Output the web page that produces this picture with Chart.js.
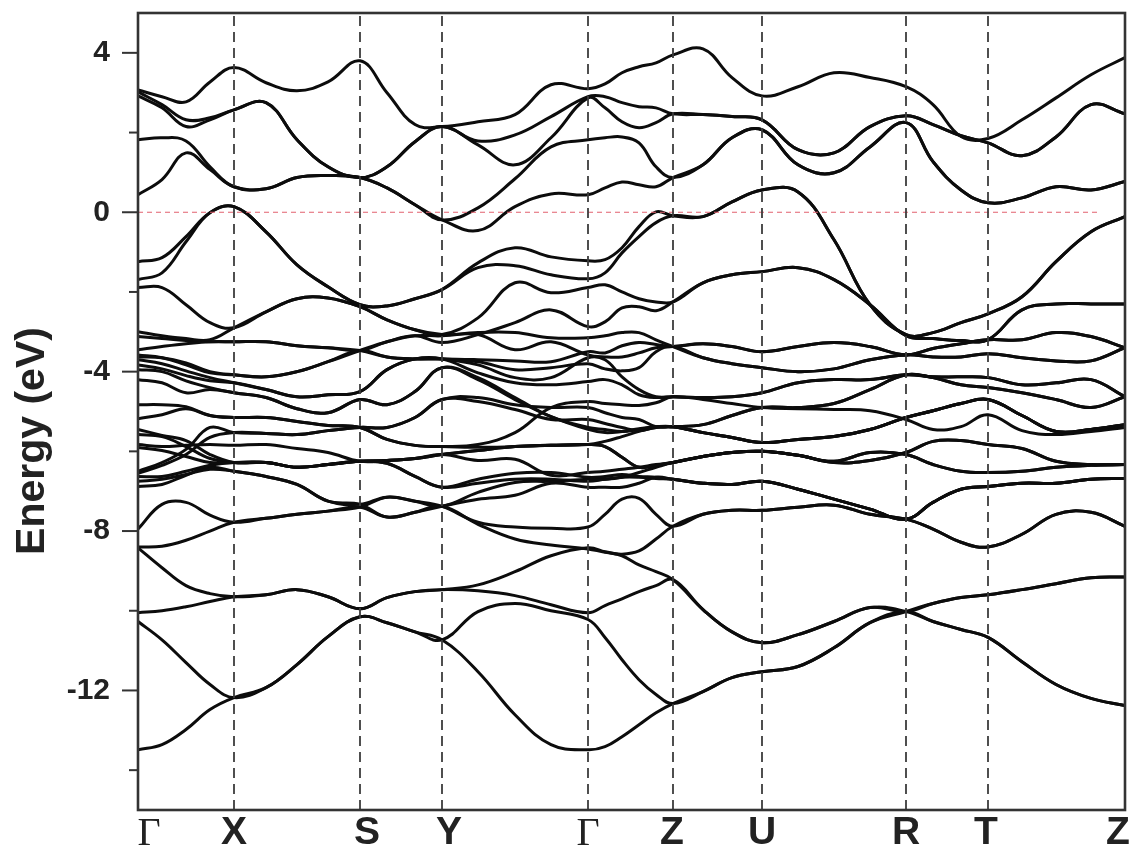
<!DOCTYPE html>
<html>
<head>
<meta charset="utf-8">
<title>Band structure</title>
<script src="https://cdn.jsdelivr.net/npm/chart.js@4"></script>
<style>
  html, body { margin: 0; padding: 0; background: #fff; }
  #wrap { width: 1137px; height: 852px; }
  canvas { filter: blur(0.5px); }
</style>
</head>
<body>
<div id="wrap"><canvas id="bands" width="1137" height="852"></canvas></div>
<script>
// k path, same length units for every band
const kGrid = [0,24,48,72, 96,128,159,190,222, 249,277,304, 340,377,413, 450,467,484,501,518,535, 565,594,624, 660,696,732,768, 795,823,850, 884,918,953,987];
const kPoints = [96,222,304,450,535,624,768,850];
const kLabelPos = [11,96,229,311,450,534,624,768,848,980];
const kLabels = ['Γ','X','S','Y','Γ','Z','U','R','T','Z'];
const yTicksMajor = [4,0,-4,-8,-12];
const yTicksMinor = [2,-2,-6,-10,-14];
const fermiEnd = 962;

// shared stretches, bands are degenerate there
const xsTop = [2.57,2.75,1.82,1.14,0.87];
const syTop = [1.14,1.77,2.15];
const tailTop = [2.45,2.40,2.32, 1.57,1.49,2.15,2.42, 2.20,1.92,1.74, 1.42,1.89,2.70,2.47];
const xsMid = [0.64,0.59,0.87,0.92,0.87];
const syMid = [0.61,0.19,-0.19];
const tailMid = [1.19,1.87,2.07, 1.19,0.99,1.64,2.25, 1.27,0.56,0.24, 0.36,0.64,0.56,0.77];
const xsVal = [0.14,-0.49,-1.32,-1.87,-2.32];
const syVal = [-2.35,-2.17,-1.94];
const tailVal = [-0.11,0.26,0.56, 0.51,-0.69,-2.32,-3.07, -3.02,-2.77,-2.55, -2.12,-1.24,-0.49,-0.11];
const xsLow = [-2.90,-2.50,-2.17,-2.15,-2.37];
const syLow = [-2.70,-2.95,-3.07];
const tailLow = [-1.77,-1.57,-1.49, -1.39,-1.69,-2.32,-3.10, -3.17,-3.22,-3.20, -2.45,-2.30,-2.30,-2.30];
const xsFlat = [-3.25,-3.25,-3.35,-3.40,-3.47];
const tailFlatA = [-3.30,-3.37,-3.50, -3.37,-3.27,-3.37,-3.58, -3.42,-3.30,-3.20, -3.20,-3.02,-3.12,-3.40];
const xsDip = [-4.08,-4.13,-4.00,-3.75,-3.47];
const tailFlatB = [-3.65,-3.80,-3.90, -4.00,-3.93,-3.70,-3.58, -3.63,-3.63,-3.55, -3.65,-3.73,-3.73,-3.40];
const syFall = [-3.63,-3.68,-3.68];
const xsG1 = [-4.28,-4.45,-4.63,-4.58,-4.50];
const syG1 = [-3.95,-3.68,-3.68];
const xsG2 = [-4.53,-4.65,-4.93,-5.03,-4.70];
const syG2 = [-4.83,-4.50,-3.90];
const zuUpper = [-4.65,-4.63,-4.53, -4.28,-4.20,-4.20,-4.08];
const rzUpper = [-4.13,-4.13,-4.15, -4.33,-4.28,-4.20,-4.63];
const rzLower = [-4.15,-4.33,-4.40, -4.53,-4.70,-4.90,-4.63];
const zuRising = [-5.33,-5.10,-4.90, -4.90,-4.80,-4.45,-4.08];
const tailFall = [-5.53,-5.65,-5.78, -5.70,-5.63,-5.45,-5.15, -4.98,-4.80,-4.70, -5.10,-5.50,-5.45,-5.33];
const xsM = [-5.15,-5.15,-5.25,-5.35,-5.40];
const syM = [-5.70,-5.85,-5.88];
const xsH = [-5.53,-5.55,-5.58,-5.48,-5.40];
const syH = [-5.40,-5.15,-4.70];
const xsN = [-6.28,-6.28,-6.40,-6.33,-6.25];
const syN = [-6.23,-6.18,-6.08];
const syN3 = [-6.30,-6.63,-6.90];
const tailN1 = [-6.13,-6.03,-6.00, -6.10,-6.25,-6.03,-6.08, -6.33,-6.50,-6.53, -6.50,-6.40,-6.35,-6.33];
const tailN2 = [-6.13,-6.03,-6.00, -6.10,-6.28,-6.23,-6.03, -5.75,-5.73,-5.83, -5.93,-6.25,-6.33,-6.33];
const tailN3 = [-6.80,-6.83,-6.75, -6.95,-7.20,-7.45,-7.70, -7.28,-6.95,-6.88, -6.80,-6.80,-6.70,-6.68];
const xsF = [-6.50,-6.63,-6.83,-7.25,-7.33];
const xsE = [-7.78,-7.68,-7.58,-7.50,-7.40];
const tailE = [-7.58,-7.48,-7.48, -7.40,-7.35,-7.58,-7.70, -7.95,-8.28,-8.40, -8.08,-7.58,-7.53,-7.88];
const xsDeep1 = [-9.65,-9.60,-9.47,-9.65,-9.95];
const syDeep1 = [-9.67,-9.52,-9.47];
const zrDeep1 = [-9.97,-10.53,-10.80, -10.60,-10.27,-9.92,-10.02];
const rzRise = [-9.82,-9.67,-9.60, -9.47,-9.32,-9.17,-9.15];
const rzDrop = [-10.27,-10.47,-10.67, -11.28,-11.85,-12.20,-12.38];
const xsDeep2 = [-12.18,-11.93,-11.35,-10.65,-10.15];
const syDeep2 = [-10.30,-10.53,-10.73];
const zrDeep2 = [-12.03,-11.68,-11.53, -11.40,-10.93,-10.30,-10.02];

const band1 = [3.07,2.90,2.77,3.27, 3.63,3.25,3.05,3.27,3.80, 3.00,2.20,2.15, 2.27,2.45,3.20, 3.10,3.22,3.50,3.65,3.75,3.95, 4.10,3.38,2.92, 3.15,3.50,3.38,3.15, 2.70,1.90,1.85, 2.32,2.87,3.45,3.88];
const band2 = [3.02,2.70,2.32,2.37, ...xsTop, ...syTop, 1.79,1.94,2.40, 2.90,2.90,2.75,2.65,2.62,2.47, ...tailTop];
const band3 = [2.92,2.62,2.15,2.32, ...xsTop, ...syTop, 1.69,1.19,1.87, 2.87,2.62,2.27,2.12,2.25,2.47, ...tailTop];
const band4 = [1.82,1.87,1.79,1.14, ...xsMid, ...syMid, 0.11,0.84,1.64, 1.82,1.87,1.89,1.74,1.14,0.87, ...tailMid];
const band5 = [0.44,0.82,1.49,1.07, ...xsMid, ...syMid, -0.46,0.14,0.46, 0.44,0.61,0.76,0.69,0.64,0.87, ...tailMid];
const band6 = [-1.24,-1.14,-0.61,-0.01, ...xsVal, ...syVal, -1.27,-0.89,-1.12, -1.22,-1.19,-0.89,-0.36,0.01,-0.09, ...tailVal];
const band7 = [-1.69,-1.52,-0.74,-0.01, ...xsVal, ...syVal, -1.39,-1.34,-1.57, -1.67,-1.52,-1.02,-0.61,-0.26,-0.09, ...tailVal];
const band8 = [-1.89,-1.89,-2.32,-2.77, ...xsLow, ...syLow, -2.65,-1.77,-2.02, -1.89,-1.82,-2.00,-2.17,-2.25,-2.25, ...tailLow];
const band9 = [-3.00,-3.10,-3.17,-3.20, ...xsLow, ...syLow, -3.07,-3.45,-3.25, -3.58,-3.63,-3.63,-3.53,-3.40,-3.37, ...tailFlatA];
const band10 = [-3.45,-3.37,-3.30,-3.25, ...xsFlat, -3.25,-3.10,-3.27, -3.07,-2.77,-2.45, -2.87,-2.75,-2.40,-2.37,-2.47,-2.25, ...tailLow];
const band11 = [-3.63,-3.65,-3.78,-4.00, ...xsDip, -3.25,-3.10,-3.10, -3.02,-3.02,-3.15, -3.15,-3.10,-3.02,-3.02,-3.20,-3.37, ...tailFlatB];
const band12 = [-3.12,-3.17,-3.22,-3.25, ...xsFlat, ...syFall, -3.70,-3.73,-3.75, -3.50,-3.53,-3.35,-3.27,-3.32,-3.37, ...tailFlatA];
const band13 = [-3.58,-3.65,-3.83,-4.03, ...xsDip, ...syFall, -3.75,-3.95,-3.90, -3.80,-3.93,-3.98,-3.90,-3.50,-3.37, ...tailFlatB];
const band14 = [-3.70,-3.80,-3.98,-4.15, ...xsG1, ...syG1, -3.83,-4.15,-4.15, -3.65,-3.70,-4.13,-4.45,-4.63,-4.63, ...zuUpper, ...rzUpper];
const band15 = [-3.83,-3.93,-4.10,-4.23, ...xsG1, ...syG1, -4.03,-4.28,-4.33, -4.25,-4.20,-4.33,-4.58,-4.65,-4.63, ...zuUpper, ...rzLower];
const band16 = [-4.20,-4.28,-4.53,-4.45, ...xsG2, ...syG2, -4.15,-4.65,-5.13, -5.40,-5.45,-5.50,-5.45,-5.38,-5.38, ...zuRising, ...rzLower];
const band17 = [-3.95,-4.00,-4.23,-4.40, ...xsG2, ...syG2, -4.20,-4.70,-5.13, -5.45,-5.53,-5.50,-5.43,-5.38,-5.38, ...tailFall];
const band18 = [-4.83,-4.83,-4.88,-5.10, ...xsM, ...syM, -5.83,-5.53,-4.90, -4.75,-4.80,-4.83,-4.85,-4.78,-4.63, -4.70,-4.80,-4.90, -4.93,-4.95,-4.98,-5.20, -5.45,-5.38,-5.08, -5.48,-5.58,-5.50,-5.40];
const band19 = [-5.18,-5.08,-4.93,-5.10, ...xsM, ...syM, -5.90,-5.88,-5.85, -5.83,-5.75,-5.63,-5.50,-5.40,-5.38, ...tailFall];
const band20 = [-6.50,-6.28,-5.95,-5.40, ...xsH, ...syH, -4.65,-4.83,-4.90, -4.90,-5.03,-5.15,-5.20,-5.38,-5.38, ...zuRising, ...rzUpper];
const band21 = [-6.55,-6.35,-6.08,-5.65, ...xsH, ...syH, -4.75,-4.95,-5.20, -5.20,-5.30,-5.40,-5.48,-5.40,-5.38, ...tailFall];
const band22 = [-5.83,-5.88,-5.85,-5.83, -5.85,-5.83,-5.93,-6.03,-6.25, ...syN, -5.98,-5.88,-5.85, -5.83,-5.88,-6.15,-6.40,-6.35,-6.28, ...tailN1];
const band23 = [-5.90,-5.98,-6.13,-6.28, ...xsN, ...syN, -6.23,-6.20,-6.60, -6.53,-6.50,-6.45,-6.40,-6.33,-6.28, ...tailN2];
const band24 = [-5.45,-5.60,-5.73,-6.08, ...xsN, ...syN3, -6.70,-6.55,-6.53, -6.65,-6.63,-6.58,-6.63,-6.65,-6.70, ...tailN3];
const band25 = [-5.58,-5.63,-5.88,-6.18, ...xsN, ...syN3, -6.80,-6.70,-6.70, -6.75,-6.70,-6.65,-6.65,-6.68,-6.70, ...tailN3];
const band26 = [-6.63,-6.63,-6.50,-6.35, ...xsN, ...syN, -5.98,-5.88,-5.85, -5.83,-5.88,-6.15,-6.40,-6.35,-6.28, ...tailN2];
const band27 = [-6.75,-6.70,-6.58,-6.45, ...xsF, -7.15,-7.25,-7.38, -7.03,-6.78,-6.75, -6.70,-6.70,-6.65,-6.53,-6.40,-6.28, ...tailN1];
const band28 = [-6.88,-6.83,-6.60,-6.40, ...xsF, -7.65,-7.53,-7.38, -7.20,-7.10,-6.80, -6.90,-6.90,-6.90,-6.80,-6.65,-6.70, ...tailN3];
const band29 = [-7.95,-7.33,-7.28,-7.60, ...xsE, -7.15,-7.25,-7.38, -7.78,-7.90,-7.93, -7.90,-7.58,-7.20,-7.18,-7.58,-7.88, ...tailE];
const band30 = [-8.40,-8.38,-8.23,-8.00, ...xsE, -7.65,-7.53,-7.38, -7.83,-8.20,-8.35, -8.45,-8.53,-8.58,-8.50,-8.20,-7.88, ...tailE];
const band31 = [-8.42,-8.92,-9.37,-9.57, ...xsDeep1, ...syDeep1, -9.35,-9.02,-8.62, -8.42,-8.52,-8.62,-8.85,-9.02,-9.22, ...zrDeep1, ...rzRise];
const band32 = [-10.05,-10.00,-9.90,-9.77, ...xsDeep1, ...syDeep1, -9.50,-9.62,-9.85, -10.05,-9.87,-9.70,-9.52,-9.37,-9.22, ...zrDeep1, ...rzDrop];
const band33 = [-10.27,-10.73,-11.30,-11.85, ...xsDeep2, ...syDeep2, -10.02,-9.82,-10.00, -10.22,-10.67,-11.23,-11.73,-12.10,-12.33, ...zrDeep2, ...rzRise];
const band34 = [-13.49,-13.36,-12.98,-12.48, ...xsDeep2, ...syDeep2, -11.53,-12.61,-13.36, -13.49,-13.41,-13.16,-12.86,-12.56,-12.33, ...zrDeep2, ...rzDrop];

const allBands = [band1,band2,band3,band4,band5,band6,band7,band8,band9,band10,band11,band12,band13,band14,band15,band16,band17,
  band18,band19,band20,band21,band22,band23,band24,band25,band26,band27,band28,band29,band30,band31,band32,band33,band34];

const datasets = [];

kPoints.forEach(k => {
  datasets.push({
    data: [{ x: k, y: -15 }, { x: k, y: 5 }],
    borderColor: '#3c3c3c', borderWidth: 1.8, borderDash: [10, 6], pointRadius: 0
  });
});

datasets.push({
  data: [{ x: 0, y: 0 }, { x: fermiEnd, y: 0 }],
  borderColor: '#e2616f', borderWidth: 1.2, borderDash: [5, 4], pointRadius: 0
});

allBands.forEach(b => {
  datasets.push({
    data: b.map((e, i) => ({ x: kGrid[i], y: e })),
    borderColor: '#0c0c0c', borderWidth: 3, pointRadius: 0,
    tension: 0.4
  });
});

// frame, left ticks and the shifted axis title
const framePlugin = {
  id: 'frame',
  afterDatasetsDraw(chart) {
    const { ctx, chartArea: a, scales } = chart;
    ctx.save();
    ctx.strokeStyle = '#333';
    ctx.lineWidth = 2.6;
    ctx.strokeRect(a.left, a.top, a.right - a.left, a.bottom - a.top);
    ctx.lineWidth = 2;
    yTicksMajor.forEach(v => {
      const p = scales.y.getPixelForValue(v);
      ctx.beginPath(); ctx.moveTo(a.left - 16, p); ctx.lineTo(a.left, p); ctx.stroke();
    });
    yTicksMinor.forEach(v => {
      const p = scales.y.getPixelForValue(v);
      ctx.beginPath(); ctx.moveTo(a.left - 9, p); ctx.lineTo(a.left, p); ctx.stroke();
    });
    ctx.translate(33, 441);
    ctx.rotate(-Math.PI / 2);
    ctx.font = 'bold 41px "Liberation Sans"';
    ctx.fillStyle = '#222';
    ctx.textAlign = 'center';
    ctx.textBaseline = 'middle';
    ctx.fillText('Energy (eV)', 0, 0);
    ctx.restore();
  }
};

new Chart(document.getElementById('bands'), {
  type: 'line',
  data: { datasets },
  plugins: [framePlugin],
  options: {
    responsive: false,
    animation: false,
    parsing: false,
    normalized: true,
    layout: { padding: { top: 13, right: 12, left: 0, bottom: 0 } },
    plugins: { legend: { display: false }, tooltip: { enabled: false } },
    scales: {
      x: {
        type: 'linear', min: 0, max: 987,
        grid: { display: false, drawTicks: false },
        border: { display: false },
        afterBuildTicks(axis) { axis.ticks = kLabelPos.map(v => ({ value: v })); },
        afterFit(axis) { axis.height = 42; axis.paddingLeft = 0; axis.paddingRight = 0; },
        ticks: {
          autoSkip: false, maxRotation: 0, padding: 4, color: '#222',
          callback(value, index) { return kLabels[index]; },
          font(c) {
            return kLabels[c.index] === 'Γ'
              ? { family: '"Liberation Serif"', size: 40, lineHeight: 1 }
              : { family: '"Liberation Sans"', size: 39, weight: 'bold', lineHeight: 1 };
          }
        }
      },
      y: {
        type: 'linear', min: -15, max: 5,
        grid: { display: false, drawTicks: false },
        border: { display: false },
        afterBuildTicks(axis) { axis.ticks = yTicksMajor.map(v => ({ value: v })); },
        afterFit(axis) { axis.width = 138; axis.paddingTop = 0; axis.paddingBottom = 0; },
        ticks: {
          padding: 28, color: '#222',
          font: { family: '"Liberation Sans"', size: 30, weight: 'bold' }
        }
      }
    }
  }
});
</script>
</body>
</html>
